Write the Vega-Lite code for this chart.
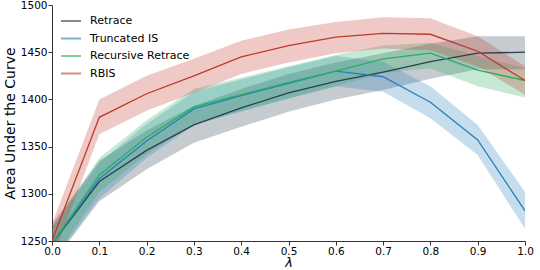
{
  "$schema": "https://vega.github.io/schema/vega-lite/v6.json",
  "autosize": "none",
  "width": 473,
  "height": 236,
  "padding": {"left": 52, "top": 5, "right": 15, "bottom": 29},
  "background": "white",
  "config": {
    "view": {"stroke": null},
    "font": "DejaVu Sans",
    "axis": {"grid": false, "domainColor": "#333", "tickColor": "#333", "labelColor": "#000", "titleColor": "#000", "labelFontSize": 10.5, "titleFontSize": 14, "titleFontWeight": "normal", "tickSize": 4, "labelPadding": 1, "labelFont": "DejaVu Sans", "titleFont": "DejaVu Sans"}
  },
  "data": {"values": [
    {"s": "Retrace", "l": 0.0, "m": 1247, "lo": 1226, "hi": 1268},
    {"s": "Retrace", "l": 0.1, "m": 1313, "lo": 1292, "hi": 1335},
    {"s": "Retrace", "l": 0.2, "m": 1346, "lo": 1326, "hi": 1367},
    {"s": "Retrace", "l": 0.3, "m": 1373, "lo": 1354, "hi": 1393},
    {"s": "Retrace", "l": 0.4, "m": 1391, "lo": 1371, "hi": 1411},
    {"s": "Retrace", "l": 0.5, "m": 1407, "lo": 1387, "hi": 1427},
    {"s": "Retrace", "l": 0.6, "m": 1419, "lo": 1400, "hi": 1439},
    {"s": "Retrace", "l": 0.7, "m": 1429, "lo": 1410, "hi": 1449},
    {"s": "Retrace", "l": 0.8, "m": 1440, "lo": 1422, "hi": 1459},
    {"s": "Retrace", "l": 0.9, "m": 1449, "lo": 1432, "hi": 1467},
    {"s": "Retrace", "l": 1.0, "m": 1450, "lo": 1432, "hi": 1467},
    {"s": "Truncated IS", "l": 0.0, "m": 1247, "lo": 1228, "hi": 1264},
    {"s": "Truncated IS", "l": 0.1, "m": 1316, "lo": 1295, "hi": 1333},
    {"s": "Truncated IS", "l": 0.2, "m": 1356, "lo": 1338, "hi": 1374},
    {"s": "Truncated IS", "l": 0.3, "m": 1390, "lo": 1373, "hi": 1408},
    {"s": "Truncated IS", "l": 0.4, "m": 1404, "lo": 1387, "hi": 1421},
    {"s": "Truncated IS", "l": 0.5, "m": 1417, "lo": 1401, "hi": 1434},
    {"s": "Truncated IS", "l": 0.6, "m": 1430, "lo": 1414, "hi": 1446},
    {"s": "Truncated IS", "l": 0.7, "m": 1424, "lo": 1408, "hi": 1440},
    {"s": "Truncated IS", "l": 0.8, "m": 1397, "lo": 1380, "hi": 1414},
    {"s": "Truncated IS", "l": 0.9, "m": 1357, "lo": 1341, "hi": 1373},
    {"s": "Truncated IS", "l": 1.0, "m": 1282, "lo": 1263, "hi": 1302},
    {"s": "Recursive Retrace", "l": 0.0, "m": 1247, "lo": 1228, "hi": 1264},
    {"s": "Recursive Retrace", "l": 0.1, "m": 1320, "lo": 1302, "hi": 1338},
    {"s": "Recursive Retrace", "l": 0.2, "m": 1360, "lo": 1342, "hi": 1378},
    {"s": "Recursive Retrace", "l": 0.3, "m": 1392, "lo": 1374, "hi": 1411},
    {"s": "Recursive Retrace", "l": 0.4, "m": 1405, "lo": 1388, "hi": 1423},
    {"s": "Recursive Retrace", "l": 0.5, "m": 1418, "lo": 1401, "hi": 1435},
    {"s": "Recursive Retrace", "l": 0.6, "m": 1430, "lo": 1414, "hi": 1447},
    {"s": "Recursive Retrace", "l": 0.7, "m": 1443, "lo": 1428, "hi": 1457},
    {"s": "Recursive Retrace", "l": 0.8, "m": 1449, "lo": 1433, "hi": 1460},
    {"s": "Recursive Retrace", "l": 0.9, "m": 1431, "lo": 1414, "hi": 1446},
    {"s": "Recursive Retrace", "l": 1.0, "m": 1420, "lo": 1402, "hi": 1433},
    {"s": "RBIS", "l": 0.0, "m": 1250, "lo": 1230, "hi": 1268},
    {"s": "RBIS", "l": 0.1, "m": 1381, "lo": 1363, "hi": 1400},
    {"s": "RBIS", "l": 0.2, "m": 1406, "lo": 1388, "hi": 1425},
    {"s": "RBIS", "l": 0.3, "m": 1425, "lo": 1407, "hi": 1443},
    {"s": "RBIS", "l": 0.4, "m": 1445, "lo": 1427, "hi": 1462},
    {"s": "RBIS", "l": 0.5, "m": 1457, "lo": 1439, "hi": 1474},
    {"s": "RBIS", "l": 0.6, "m": 1466, "lo": 1449, "hi": 1482},
    {"s": "RBIS", "l": 0.7, "m": 1470, "lo": 1454, "hi": 1487},
    {"s": "RBIS", "l": 0.8, "m": 1469, "lo": 1452, "hi": 1486},
    {"s": "RBIS", "l": 0.9, "m": 1451, "lo": 1435, "hi": 1467},
    {"s": "RBIS", "l": 1.0, "m": 1420, "lo": 1405, "hi": 1435}
  ]},
  "encoding": {
    "x": {"field": "l", "type": "quantitative", "scale": {"domain": [0, 1], "nice": false, "zero": false},
      "axis": {"title": "λ", "titleFontStyle": "italic", "titleFontSize": 13, "titlePadding": 0, "values": [0, 0.1, 0.2, 0.3, 0.4, 0.5, 0.6, 0.7, 0.8, 0.9, 1.0], "format": ".1f", "labelFlush": false}},
    "color": {"field": "s", "type": "nominal",
      "scale": {"domain": ["Retrace", "Truncated IS", "Recursive Retrace", "RBIS"], "range": ["#2c3e50", "#2980b9", "#27ae60", "#c0392b"]},
      "legend": {"title": null, "orient": "none", "legendX": 8, "legendY": 5, "symbolType": "stroke", "symbolSize": 400, "symbolStrokeWidth": 2, "symbolOpacity": 0.6, "labelFontSize": 11, "labelFont": "DejaVu Sans", "rowPadding": 1.5, "labelOffset": 8}}
  },
  "layer": [
    {
      "mark": {"type": "area", "opacity": 0.27, "clip": true},
      "encoding": {
        "y": {"field": "lo", "type": "quantitative", "scale": {"domain": [1250, 1500], "nice": false, "zero": false},
          "axis": {"title": "Area Under the Curve", "values": [1250, 1300, 1350, 1400, 1450, 1500], "format": "d", "titlePadding": 3}},
        "y2": {"field": "hi"}
      }
    },
    {
      "mark": {"type": "line", "strokeWidth": 1.3, "clip": true},
      "encoding": {
        "y": {"field": "m", "type": "quantitative"}
      }
    }
  ]
}
